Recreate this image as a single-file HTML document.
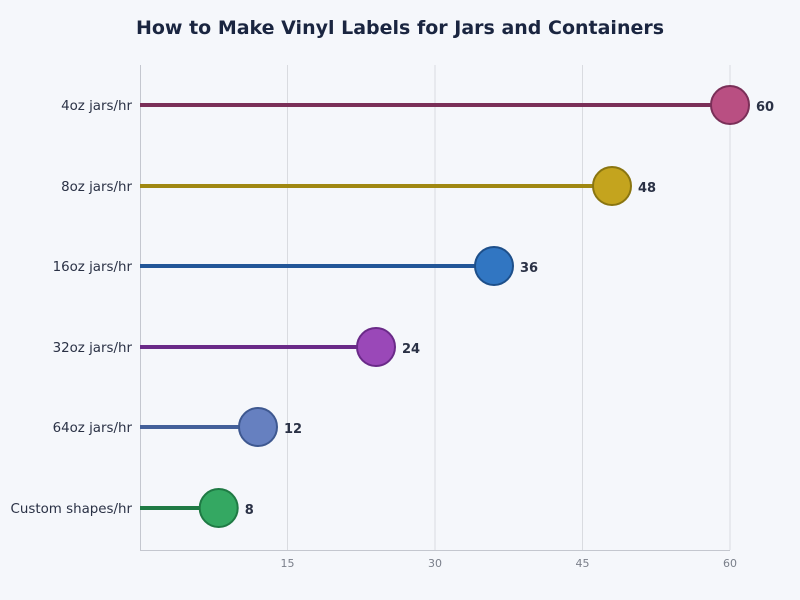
<!DOCTYPE html>
<html><head><meta charset="utf-8"><style>
html,body{margin:0;padding:0;background:#f5f7fb;}
svg{display:block;font-family:"DejaVu Sans","Liberation Sans",sans-serif;}
</style></head><body>
<svg width="800" height="600" viewBox="0 0 800 600">
<rect width="800" height="600" fill="#f5f7fb"/>
<text x="400" y="34" text-anchor="middle" font-size="19" font-weight="bold" fill="#1a2540">How to Make Vinyl Labels for Jars and Containers</text>
<g stroke="#d9dbe0" stroke-width="1">
<line x1="287.5" y1="65" x2="287.5" y2="550"/>
<line x1="435" y1="65" x2="435" y2="550"/>
<line x1="582.5" y1="65" x2="582.5" y2="550"/>
<line x1="730" y1="65" x2="730" y2="550"/>
</g>
<line x1="140.5" y1="65" x2="140.5" y2="550" stroke="#c4c7cf"/>
<line x1="140" y1="550.5" x2="730" y2="550.5" stroke="#c4c7cf"/>
<g font-size="11" fill="#7a7f8a" text-anchor="middle">
<text x="287.5" y="567">15</text><text x="435" y="567">30</text><text x="582.5" y="567">45</text><text x="730" y="567">60</text>
</g>
<g font-size="13.4" fill="#2a3145" text-anchor="end">
<text x="132" y="110">4oz jars/hr</text>
<text x="132" y="191">8oz jars/hr</text>
<text x="132" y="271">16oz jars/hr</text>
<text x="132" y="352">32oz jars/hr</text>
<text x="132" y="432">64oz jars/hr</text>
<text x="132" y="513">Custom shapes/hr</text>
</g>
<g stroke-width="4">
<line x1="140" y1="105" x2="730" y2="105" stroke="#7a2f58"/>
<line x1="140" y1="186" x2="612" y2="186" stroke="#a08812"/>
<line x1="140" y1="266" x2="494" y2="266" stroke="#225698"/>
<line x1="140" y1="347" x2="376" y2="347" stroke="#6a2a88"/>
<line x1="140" y1="427" x2="258" y2="427" stroke="#44609a"/>
<line x1="140" y1="508" x2="218.7" y2="508" stroke="#1f7a44"/>
</g>
<g stroke-width="2">
<circle cx="730" cy="105" r="19" fill="#b94f82" stroke="#7a2f58"/>
<circle cx="612" cy="186" r="19" fill="#c4a41e" stroke="#8a7510"/>
<circle cx="494" cy="266" r="19" fill="#3176c2" stroke="#1d4f8a"/>
<circle cx="376" cy="347" r="19" fill="#9a48b8" stroke="#6a2a88"/>
<circle cx="258" cy="427" r="19" fill="#6680c0" stroke="#3e5890"/>
<circle cx="218.7" cy="508" r="19" fill="#34a862" stroke="#1f7a44"/>
</g>
<g font-size="13" font-weight="bold" fill="#2a3145">
<text x="756" y="111">60</text>
<text x="638" y="192">48</text>
<text x="520" y="272">36</text>
<text x="402" y="353">24</text>
<text x="284" y="433">12</text>
<text x="244.7" y="514">8</text>
</g>
</svg>
</body></html>
